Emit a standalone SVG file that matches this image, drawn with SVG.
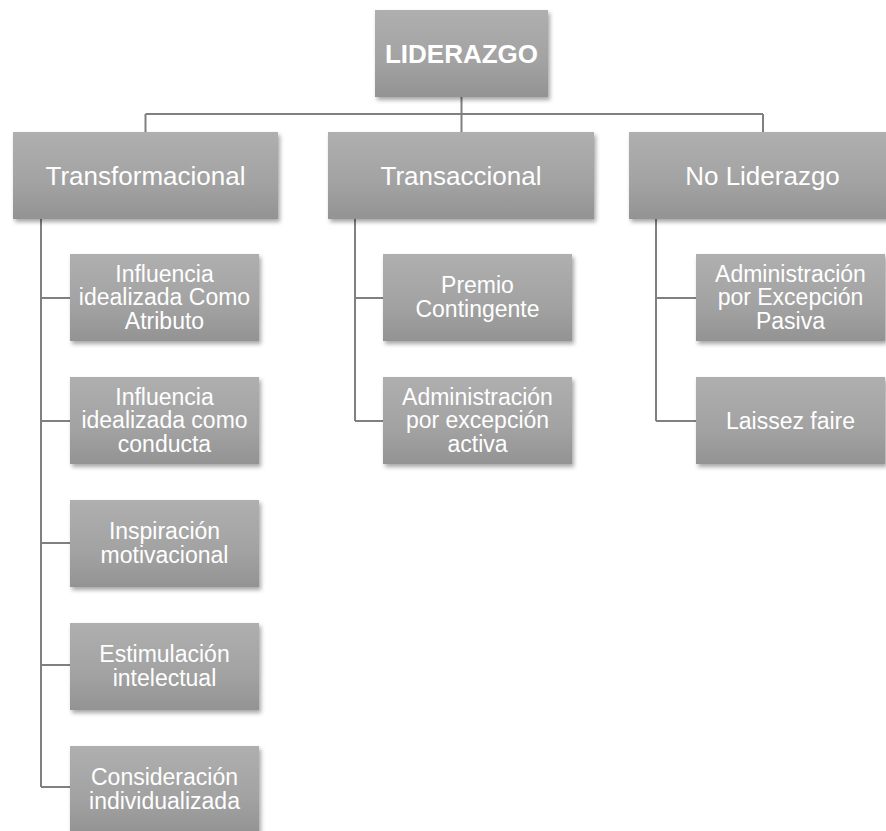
<svg xmlns="http://www.w3.org/2000/svg" width="886" height="831" viewBox="0 0 886 831">
<style>
.box{fill:url(#g);filter:url(#sh)}
.t{font-family:"Liberation Sans",Arial,sans-serif;fill:#fff;text-anchor:middle}
.l1{font-size:26px;font-weight:bold}
.l2{font-size:26px}
.l3{font-size:23px}
.c{stroke:#808080;stroke-width:2;fill:none}
</style>
<defs>
<linearGradient id="g" x1="0" y1="0" x2="0" y2="1">
<stop offset="0" stop-color="#afafaf"/>
<stop offset="0.6" stop-color="#a2a2a2"/>
<stop offset="1" stop-color="#939393"/>
</linearGradient>
<filter id="sh" x="-10%" y="-10%" width="125%" height="130%">
<feDropShadow dx="2" dy="3" stdDeviation="2" flood-color="#000" flood-opacity="0.35"/>
</filter>
</defs>
<rect width="886" height="831" fill="#fff"/>
<g id="connectors">
<path class="c" d="M461.5 97V114M145.5 114H763M145.5 114V132M461.5 114V132M763 114V132"/>
<path class="c" d="M41 219V787M41 298H70M41 421H70M41 543H70M41 665H70M41 787H70"/>
<path class="c" d="M355 219V421M355 298H383M355 421H383"/>
<path class="c" d="M656 219V421M656 298H696M656 421H696"/>
</g>
<g id="n-liderazgo"><rect class="box" x="375" y="10" width="173" height="87"/><text class="t l1" x="461.5" y="62.5">LIDERAZGO</text></g>
<g id="n-transformacional"><rect class="box" x="13" y="132" width="265" height="87"/><text class="t l2" x="145.5" y="184.5">Transformacional</text></g>
<g id="n-transaccional"><rect class="box" x="328" y="132" width="266" height="87"/><text class="t l2" x="461" y="184.5">Transaccional</text></g>
<g id="n-noliderazgo"><rect class="box" x="629" y="132" width="267" height="87"/><text class="t l2" x="762.5" y="184.5">No Liderazgo</text></g>
<g id="n-t1"><rect class="box" x="70" y="254" width="189" height="87"/><text class="t l3"><tspan x="164.5" y="281.5">Influencia</tspan><tspan x="164.5" y="305">idealizada Como</tspan><tspan x="164.5" y="328.5">Atributo</tspan></text></g>
<g id="n-t2"><rect class="box" x="70" y="377" width="189" height="87"/><text class="t l3"><tspan x="164.5" y="404.5">Influencia</tspan><tspan x="164.5" y="428">idealizada como</tspan><tspan x="164.5" y="451.5">conducta</tspan></text></g>
<g id="n-t3"><rect class="box" x="70" y="500" width="189" height="87"/><text class="t l3"><tspan x="164.5" y="539.25">Inspiración</tspan><tspan x="164.5" y="562.75">motivacional</tspan></text></g>
<g id="n-t4"><rect class="box" x="70" y="623" width="189" height="87"/><text class="t l3"><tspan x="164.5" y="662.25">Estimulación</tspan><tspan x="164.5" y="685.75">intelectual</tspan></text></g>
<g id="n-t5"><rect class="box" x="70" y="746" width="189" height="87"/><text class="t l3"><tspan x="164.5" y="785.25">Consideración</tspan><tspan x="164.5" y="808.75">individualizada</tspan></text></g>
<g id="n-a1"><rect class="box" x="383" y="254" width="189" height="87"/><text class="t l3"><tspan x="477.5" y="293.25">Premio</tspan><tspan x="477.5" y="316.75">Contingente</tspan></text></g>
<g id="n-a2"><rect class="box" x="383" y="377" width="189" height="87"/><text class="t l3"><tspan x="477.5" y="404.5">Administración</tspan><tspan x="477.5" y="428">por excepción</tspan><tspan x="477.5" y="451.5">activa</tspan></text></g>
<g id="n-n1"><rect class="box" x="696" y="254" width="189" height="87"/><text class="t l3"><tspan x="790.5" y="281.5">Administración</tspan><tspan x="790.5" y="305">por Excepción</tspan><tspan x="790.5" y="328.5">Pasiva</tspan></text></g>
<g id="n-n2"><rect class="box" x="696" y="377" width="189" height="87"/><text class="t l3" x="790.5" y="428.5">Laissez faire</text></g>
</svg>
